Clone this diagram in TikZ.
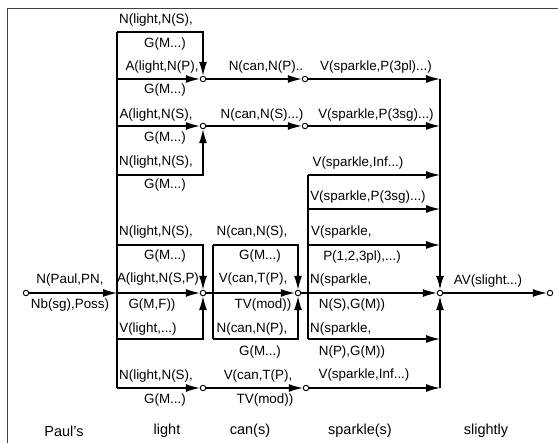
\documentclass[tikz,border=0pt]{standalone}
\usepackage{fontspec}
\setmainfont{Liberation Sans}
\usetikzlibrary{arrows.meta}
\tikzset{
  pt/.style={circle, draw, fill=white, inner sep=0pt, minimum size=5.5pt, line width=0.9pt},
  wire/.style={line width=1.25pt},
  vwire/.style={line width=1.7pt},
  arr/.style={wire, -{Latex[length=14pt,width=8pt]}},
  varr/.style={vwire, -{Latex[length=14pt,width=8pt]}},
  lbl/.style={font=\fontsize{13.4}{15}\selectfont, inner sep=0pt},
  word/.style={font=\fontsize{14.5}{16}\selectfont, inner sep=0pt},
  frame/.style={line width=0.7pt, black!75}
}
\begin{document}
\begin{tikzpicture}[x=1pt,y=-1pt]
\useasboundingbox (0,0) rectangle (558,443);
\draw[frame] (7,443) -- (7,8) -- (558,8);

% junction points
\node[pt] (s0) at (26,293) {};
\node[pt] (n1) at (203,79) {};
\node[pt] (n2) at (203,126) {};
\node[pt] (lm) at (203,293) {};
\node[pt] (lb) at (203,388) {};
\node[pt] (c1) at (305,79) {};
\node[pt] (c2) at (305,126) {};
\node[pt] (cm) at (298,293) {};
\node[pt] (cb) at (306,388) {};
\node[pt] (fin) at (440,293) {};
\node[pt] (end) at (550,293) {};

% corner coordinates
\foreach \y in {32,79,126,175,245,293,339,388} {\coordinate (l\y) at (117,\y);}
\coordinate (k245) at (213,245);
\coordinate (k339) at (213,339);
\foreach \y in {175,209,245,339} {\coordinate (s\y) at (308,\y);}
\foreach \y in {79,126,175,209,245,339,388} {\coordinate (r\y) at (440,\y);}

% light column
\draw[vwire] (l32) -- (l388);
\draw[arr] (l32) -| (n1);
\draw[arr] (l79) -- (n1);
\draw[arr] (l126) -- (n2);
\draw[arr] (l175) -| (n2);
\draw[arr] (s0) -- (l293);
\draw[arr] (l293) -- (lm);
\draw[arr] (l245) -| (lm);
\draw[arr] (l339) -| (lm);
\draw[arr] (l388) -- (lb);

% can column
\draw[arr] (n1) -- (c1);
\draw[arr] (n2) -- (c2);
\draw[arr] (lb) -- (cb);
\draw[vwire] (k245) -- (k339);
\draw[arr] (lm) -- (cm);
\draw[arr] (k245) -| (cm);
\draw[arr] (k339) -| (cm);

% sparkle column
\draw[arr] (c1) -- (r79);
\draw[arr] (c2) -- (r126);
\draw[arr] (cb) -- (r388);
\draw[vwire] (s175) -- (s339);
\foreach \y in {175,209,245,339} {\draw[arr] (s\y) -- (r\y);}
\draw[arr] (cm) -- (fin);
\draw[varr] (r79) -- (fin);
\draw[varr] (r388) -- (fin);

% slightly
\draw[arr] (fin) -- (end);

% labels: Paul's
\node[lbl] (tp1) at (70,280) {N(Paul,PN,};
\node[lbl] (tp2) at (70,305) {Nb(sg),Poss)};

% labels: light
\node[lbl] (ta1) at (156,20) {N(light,N(S),};
\node[lbl] (ta2) at (165,44) {G(M...)};
\node[lbl] (ta3) at (162,67) {A(light,N(P),};
\node[lbl] (ta4) at (165,90) {G(M...)};
\node[lbl] (ta5) at (156,115) {A(light,N(S),};
\node[lbl] (ta6) at (165,138) {G(M...)};
\node[lbl] (ta7) at (156,162) {N(light,N(S),};
\node[lbl] (ta8) at (165,185) {G(M...)};
\node[lbl] (ta9) at (156,232) {N(light,N(S),};
\node[lbl] (ta10) at (165,256) {G(M...)};
\node[lbl] (ta11) at (158,279) {A(light,N(S,P)};
\node[lbl] (ta12) at (152,305) {G(M,F))};
\node[lbl] (ta13) at (148,329) {V(light,...)};
\node[lbl] (ta14) at (156,376) {N(light,N(S),};
\node[lbl] (ta15) at (165,400) {G(M...)};

% labels: can
\node[lbl] (tb1) at (266,67) {N(can,N(P)..};
\node[lbl] (tb2) at (262,115) {N(can,N(S)...)};
\node[lbl] (tb3) at (252,232) {N(can,N(S),};
\node[lbl] (tb4) at (260,256) {G(M...)};
\node[lbl] (tb5) at (253,279) {V(can,T(P),};
\node[lbl] (tb6) at (263,305) {TV(mod))};
\node[lbl] (tb7) at (252,329) {N(can,N(P),};
\node[lbl] (tb8) at (260,352) {G(M...)};
\node[lbl] (tb9) at (258,376) {V(can,T(P),};
\node[lbl] (tb10) at (265,400) {TV(mod))};

% labels: sparkle
\node[lbl] (tc1) at (376,67) {V(sparkle,P(3pl)...)};
\node[lbl] (tc2) at (376,115) {V(sparkle,P(3sg)...)};
\node[lbl] (tc3) at (358,163) {V(sparkle,Inf...)};
\node[lbl] (tc4) at (368,197) {V(sparkle,P(3sg)...)};
\node[lbl, anchor=west] (tc5) at (311,232) {V(sparkle,};
\node[lbl] (tc6) at (362,257) {P(1,2,3pl),...)};
\node[lbl, anchor=west] (tc7) at (310,280) {N(sparkle,};
\node[lbl] (tc8) at (352,305) {N(S),G(M))};
\node[lbl, anchor=west] (tc9) at (310,329) {N(sparkle,};
\node[lbl] (tc10) at (352,352) {N(P),G(M))};
\node[lbl] (tc11) at (364,375) {V(sparkle,Inf...)};

% labels: slightly
\node[lbl] (td1) at (488,281) {AV(slight...)};

% words
\node[word] (w1) at (64,431) {Paul's};
\node[word] (w2) at (167,431) {light};
\node[word] (w3) at (250,431) {can(s)};
\node[word] (w4) at (360,431) {sparkle(s)};
\node[word] (w5) at (486,431) {slightly};
\end{tikzpicture}
\end{document}
